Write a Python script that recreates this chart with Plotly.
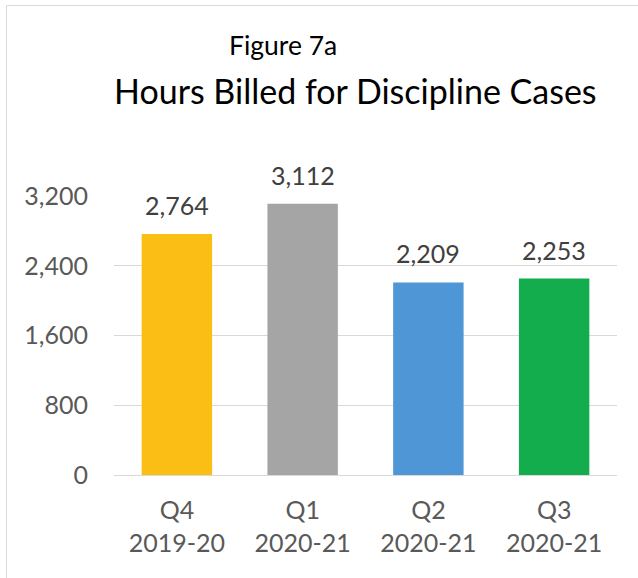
import plotly.graph_objects as go

categories = ["Q4<br>2019-20", "Q1<br>2020-21", "Q2<br>2020-21", "Q3<br>2020-21"]
values = [2764, 3112, 2209, 2253]
bar_colors = ["#FBBE14", "#A5A5A5", "#4F96D6", "#14AD4E"]
y_ticks = [0, 800, 1600, 2400, 3200]

FONT = "Lato"
W, H = 638, 578
L, R, T, B = 114, 21, 196, 103
pw, ph = W - L - R, H - T - B

def px_x(x):
    return (x - L) / pw

def px_y(y):
    return (H - B - y) / ph

fig = go.Figure()
fig.add_trace(go.Bar(
    x=categories, y=values,
    marker=dict(color=bar_colors, line=dict(width=0)),
    hoverinfo="skip",
))

for c, v in zip(categories, values):
    fig.add_annotation(x=c, y=v, text=f"{v:,}", showarrow=False,
                       yanchor="bottom", yshift=12,
                       font=dict(family=FONT, size=25, color="#404040"))

fig.add_annotation(xref="paper", yref="paper", x=px_x(283), y=px_y(45),
                   text="Figure 7a", showarrow=False, xanchor="center", yanchor="middle",
                   font=dict(family=FONT, size=26.5, color="#000000"))
fig.add_annotation(xref="paper", yref="paper", x=px_x(355), y=px_y(91),
                   text="Hours Billed for Discipline Cases", showarrow=False,
                   xanchor="center", yanchor="middle",
                   font=dict(family=FONT, size=34, color="#000000"))

fig.add_shape(type="rect", xref="paper", yref="paper",
              x0=px_x(6.5), x1=px_x(700), y0=px_y(700), y1=px_y(5.5),
              line=dict(color="#D9D9D9", width=1), fillcolor="rgba(0,0,0,0)", layer="below")

fig.update_layout(
    width=W, height=H,
    margin=dict(l=L, r=R, t=T, b=B, pad=0),
    paper_bgcolor="white", plot_bgcolor="white",
    bargap=0.44, showlegend=False,
    font=dict(family=FONT, size=25, color="#595959"),
)
fig.update_xaxes(showline=False, ticks="", showgrid=False, ticklabelstandoff=18,
                 tickfont=dict(family=FONT, size=25, color="#595959"))
fig.update_yaxes(range=[0, 3200], tickvals=y_ticks, tickformat=",",
                 showgrid=True, gridcolor="#D9D9D9", gridwidth=1.3,
                 zeroline=True, zerolinecolor="#D9D9D9", zerolinewidth=1.3,
                 showline=False, ticks="", ticklabelstandoff=25,
                 tickfont=dict(family=FONT, size=25, color="#595959"))

fig.write_html("out.html", config={"displayModeBar": False},
               post_script="document.body.style.margin='0';document.body.style.overflow='hidden';")
